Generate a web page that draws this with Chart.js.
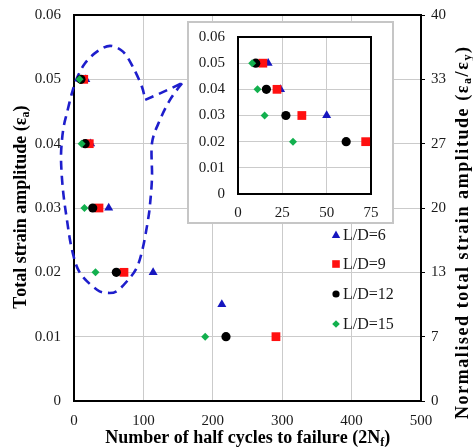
<!DOCTYPE html>
<html>
<head>
<meta charset="utf-8">
<script src="https://cdn.jsdelivr.net/npm/chart.js@4.4.1/dist/chart.umd.min.js"></script>
<style>
  html, body { margin: 0; padding: 0; background: #fff; }
  #wrap { position: relative; width: 473px; height: 448px; }
  #main { position: absolute; left: 0; top: 0; }
  #insetBox {
    position: absolute; left: 187px; top: 21px; width: 203px; height: 199px;
    background: #fff; border: 2px solid #c6c6c6;
  }
</style>
</head>
<body>
<div id="wrap">
  <canvas id="main" width="473" height="448"></canvas>
  <div id="insetBox"><canvas id="inset" width="203" height="199"></canvas></div>
</div>
<script>
// Number of half cycles to failure (2Nf) at each strain amplitude
const seriesLabels = ['L/D=6', 'L/D=9', 'L/D=12', 'L/D=15'];
const ld6Strain = [0.05, 0.04, 0.03, 0.02, 0.015];
const ld6Cycles = [17, 24, 50, 114, 213];
const ld9Strain = [0.05, 0.04, 0.03, 0.02, 0.01];
const ld9Cycles = [14, 22, 36, 72, 291];
const ld12Strain = [0.05, 0.04, 0.03, 0.02, 0.01];
const ld12Cycles = [10, 16, 27, 61, 219];
const ld15Strain = [0.05, 0.04, 0.03, 0.02, 0.01];
const ld15Cycles = [8, 11, 15, 31, 189];

// normalised axis: 0.06 strain corresponds to 40
const normFactor = 40 / 0.06;

// dashed callout around the low-cycle points (cycles, strain)
const calloutCurve = [
  [155.6, 0.0494], [138.3, 0.0468], [123.9, 0.0437], [112.4, 0.0401], [112.4, 0.0348],
  [109.5, 0.0305], [106.6, 0.0281], [99.4, 0.0239], [90.8, 0.0208], [77.8, 0.0188],
  [62.0, 0.0171], [49.0, 0.0168], [33.1, 0.0173], [8.6, 0.0199], [-2.9, 0.0235],
  [-10.1, 0.0281], [-15.9, 0.0328], [-18.7, 0.0375], [-17.3, 0.0406], [-14.4, 0.0429],
  [-10.1, 0.0448], [-2.9, 0.0479], [4.3, 0.0502], [15.9, 0.0525], [33.1, 0.0543],
  [51.9, 0.0552], [70.6, 0.0543], [85.0, 0.0519], [98.0, 0.0488], [102.3, 0.0468]
];
const calloutNotch = [[102.3, 0.0468], [119.6, 0.0476], [155.6, 0.0494]];

const colors = {
  blue: '#1616bf',
  red: '#ff1010',
  black: '#000000',
  green: '#12b04e',
  grid: '#cbcbcb',
  text: '#1a1a1a',
  dash: '#1e1ecc'
};
const serif = "'Liberation Serif', 'Times New Roman', serif";

function toPoints(xs, ys) {
  return xs.map((x, i) => ({ x: x, y: ys[i] }));
}

function makeDatasets(scale) {
  return [
    { label: seriesLabels[0], data: toPoints(ld6Cycles, ld6Strain), pointStyle: 'triangle',
      pointRadius: 5.2 * scale, backgroundColor: colors.blue, borderColor: colors.blue, borderWidth: 0, order: 4 },
    { label: seriesLabels[1], data: toPoints(ld9Cycles, ld9Strain), pointStyle: 'rect',
      pointRadius: 6.2 * scale, backgroundColor: colors.red, borderColor: colors.red, borderWidth: 0, order: 3 },
    { label: seriesLabels[2], data: toPoints(ld12Cycles, ld12Strain), pointStyle: 'circle',
      pointRadius: 4.6 * scale, backgroundColor: colors.black, borderColor: colors.black, borderWidth: 0, order: 2 },
    { label: seriesLabels[3], data: toPoints(ld15Cycles, ld15Strain), pointStyle: 'rectRot',
      pointRadius: 4 * scale, backgroundColor: colors.green, borderColor: colors.green, borderWidth: 0, order: 1 }
  ];
}

// draw text made of normal and subscript pieces, centred on (0,0);
// optional span stretches the letter spacing to that total length
function drawRich(ctx, parts, size, span) {
  const big = 'bold ' + size + 'px ' + serif;
  const small = 'bold ' + Math.round(size * 0.68) + 'px ' + serif;
  let total = 0, chars = 0;
  parts.forEach(p => { ctx.font = p[1] ? small : big; total += ctx.measureText(p[0]).width; chars += p[0].length; });
  let gap = 0;
  if (span && chars > 1) gap = (span - total) / (chars - 1);
  const width = total + gap * (chars - 1);
  let x = -width / 2;
  ctx.textBaseline = 'middle';
  ctx.textAlign = 'left';
  parts.forEach(p => {
    ctx.font = p[1] ? small : big;
    for (const ch of p[0]) {
      ctx.fillText(ch, x, p[1] ? size * 0.3 : 0);
      x += ctx.measureText(ch).width + gap;
    }
  });
}

function frameBorder(chart) {
  const a = chart.chartArea;
  const ctx = chart.ctx;
  ctx.save();
  ctx.strokeStyle = '#000';
  ctx.lineWidth = 2;
  ctx.strokeRect(a.left, a.top, a.right - a.left, a.bottom - a.top);
  ctx.restore();
}

// fixed axis box sizes, no extra label padding
function fixWidth(w) {
  return s => { s.width = w; s.paddingTop = 0; s.paddingBottom = 0; };
}
function fixHeight(h) {
  return s => { s.height = h; s.paddingLeft = 0; s.paddingRight = 0; };
}

const mainDecor = {
  id: 'mainDecor',
  beforeDatasetsDraw(chart) {
    frameBorder(chart);
    const ctx = chart.ctx;
    const xs = chart.scales.x, ys = chart.scales.y;
    const px = p => [xs.getPixelForValue(p[0]), ys.getPixelForValue(p[1])];
    ctx.save();
    ctx.strokeStyle = colors.dash;
    ctx.lineWidth = 2.6;
    ctx.setLineDash([9, 6]);
    ctx.lineJoin = 'round';
    // smooth curve through the callout points (Catmull-Rom)
    const pts = calloutCurve.map(px);
    ctx.beginPath();
    ctx.moveTo(pts[0][0], pts[0][1]);
    for (let i = 0; i < pts.length - 1; i++) {
      const p0 = pts[Math.max(i - 1, 0)], p1 = pts[i], p2 = pts[i + 1], p3 = pts[Math.min(i + 2, pts.length - 1)];
      ctx.bezierCurveTo(
        p1[0] + (p2[0] - p0[0]) / 6, p1[1] + (p2[1] - p0[1]) / 6,
        p2[0] - (p3[0] - p1[0]) / 6, p2[1] - (p3[1] - p1[1]) / 6,
        p2[0], p2[1]);
    }
    calloutNotch.slice(1).map(px).forEach(p => ctx.lineTo(p[0], p[1]));
    ctx.stroke();
    ctx.restore();
  },
  afterDraw(chart) {
    const ctx = chart.ctx;
    const a = chart.chartArea;
    ctx.save();
    ctx.fillStyle = '#000';
    // x title
    ctx.save();
    ctx.translate((a.left + a.right) / 2, 438);
    drawRich(ctx, [['Number of half cycles to failure (2N', false], ['f', true], [')', false]], 18);
    ctx.restore();
    // left title
    ctx.save();
    ctx.translate(21, (a.top + a.bottom) / 2);
    ctx.rotate(-Math.PI / 2);
    drawRich(ctx, [['Total strain amplitude (\u03b5', false], ['a', true], [')', false]], 18);
    ctx.restore();
    // right title
    ctx.save();
    ctx.translate(463, 233);
    ctx.rotate(-Math.PI / 2);
    drawRich(ctx, [['Normalised total strain amplitude (\u03b5', false], ['a', true], ['/\u03b5', false], ['y', true], [')', false]], 18, 372);
    ctx.restore();

    // legend
    const lx = 336, ly = [235, 264, 294, 324];
    const lcol = [colors.blue, colors.red, colors.black, colors.green];
    ly.forEach((y, i) => {
      ctx.fillStyle = lcol[i];
      ctx.beginPath();
      if (i === 0) { ctx.moveTo(lx, y - 4.5); ctx.lineTo(lx + 4.2, y + 3); ctx.lineTo(lx - 4.2, y + 3); ctx.closePath(); }
      else if (i === 1) { ctx.rect(lx - 3.8, y - 3.8, 7.6, 7.6); }
      else if (i === 2) { ctx.arc(lx, y, 3.6, 0, Math.PI * 2); }
      else { ctx.moveTo(lx, y - 3.8); ctx.lineTo(lx + 3.8, y); ctx.lineTo(lx, y + 3.8); ctx.lineTo(lx - 3.8, y); ctx.closePath(); }
      ctx.fill();
      ctx.fillStyle = colors.text;
      ctx.font = '16px ' + serif;
      ctx.textAlign = 'left';
      ctx.textBaseline = 'middle';
      ctx.fillText(seriesLabels[i], lx + 7, y + 1);
    });
    ctx.restore();
  }
};

const tickFont = { family: serif, size: 15 };

new Chart(document.getElementById('main'), {
  type: 'scatter',
  data: { datasets: makeDatasets(1) },
  options: {
    responsive: false,
    animation: false,
    events: [],
    layout: { padding: { top: 15, left: 0, right: 0, bottom: 0 } },
    plugins: { legend: { display: false }, tooltip: { enabled: false } },
    scales: {
      x: {
        type: 'linear', min: 0, max: 500,
        ticks: { stepSize: 100, font: tickFont, color: colors.text, padding: 11, maxRotation: 0 },
        grid: { color: colors.grid, drawTicks: false },
        border: { display: false },
        afterFit: fixHeight(47)
      },
      y: {
        type: 'linear', position: 'left', min: 0, max: 0.06,
        ticks: { stepSize: 0.01, font: tickFont, color: colors.text, padding: 13,
          callback: v => v === 0 ? '0' : v.toFixed(2) },
        grid: { color: colors.grid, drawTicks: false },
        border: { display: false },
        afterFit: fixWidth(74)
      },
      yNorm: {
        type: 'linear', position: 'right', min: 0, max: 0.06,
        ticks: { stepSize: 0.01, font: tickFont, color: colors.text, padding: 6,
          callback: v => String(Math.round(v * normFactor)) },
        grid: { drawOnChartArea: false, drawTicks: true, tickLength: 4, color: '#000' },
        border: { display: false },
        afterFit: fixWidth(52)
      }
    }
  },
  plugins: [mainDecor]
});

new Chart(document.getElementById('inset'), {
  type: 'scatter',
  data: { datasets: makeDatasets(1) },
  options: {
    responsive: false,
    animation: false,
    events: [],
    layout: { padding: { top: 14, left: 0, right: 21, bottom: 0 } },
    plugins: { legend: { display: false }, tooltip: { enabled: false } },
    scales: {
      x: {
        type: 'linear', min: 0, max: 75,
        ticks: { stepSize: 25, font: tickFont, color: colors.text, padding: 10, maxRotation: 0 },
        grid: { color: colors.grid, drawTicks: false },
        border: { display: false },
        afterFit: fixHeight(28)
      },
      y: {
        type: 'linear', min: 0, max: 0.06,
        ticks: { stepSize: 0.01, font: tickFont, color: colors.text, padding: 13,
          callback: v => v === 0 ? '0' : v.toFixed(2) },
        grid: { color: colors.grid, drawTicks: false },
        border: { display: false },
        afterFit: fixWidth(49)
      }
    }
  },
  plugins: [{ id: 'insetFrame', beforeDatasetsDraw: frameBorder }]
});
</script>
</body>
</html>
